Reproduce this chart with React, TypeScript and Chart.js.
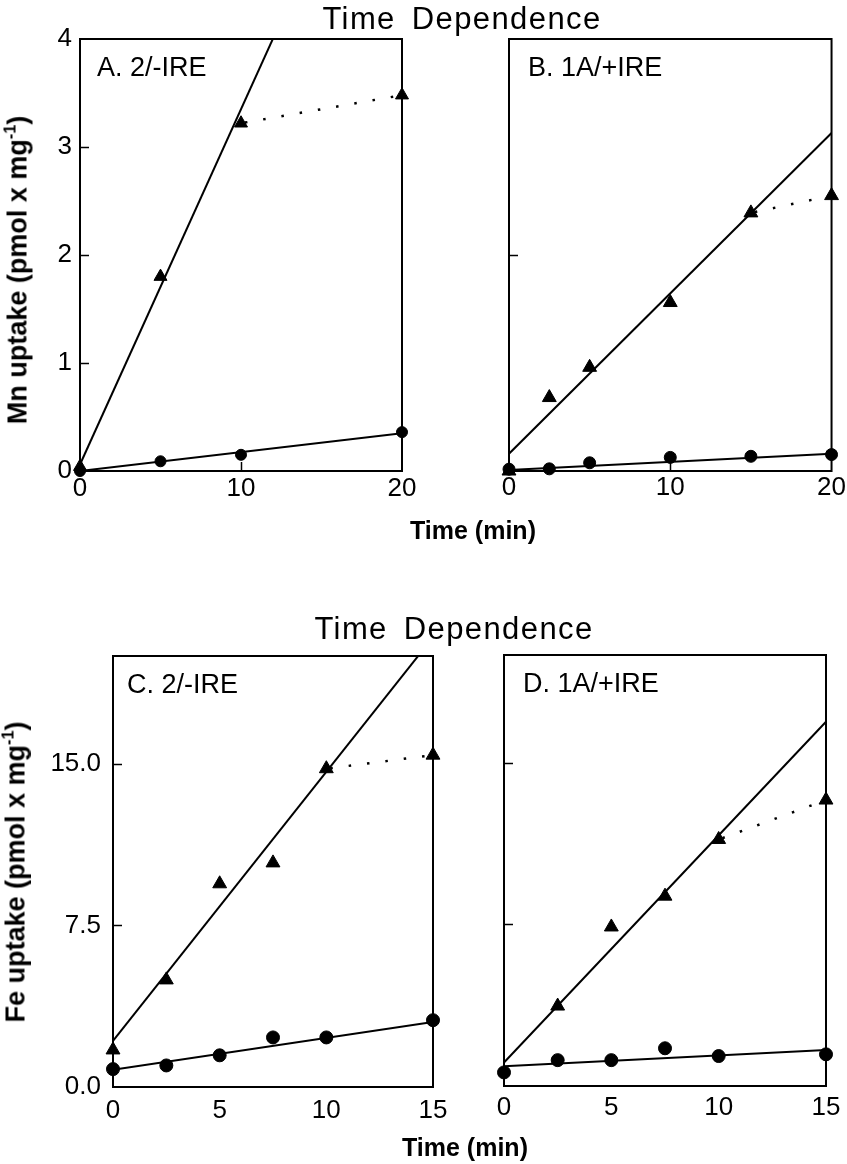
import React, { useEffect, useRef } from "react";
import { Chart, registerables } from "chart.js";
Chart.register(...registerables);

const FONT = '"Liberation Sans", Arial, Helvetica, sans-serif';

// ---------- Panel A : Mn uptake, 2/-IRE ----------
const timeA = [0, 5, 10, 20];
const mnTriA = [0.04, 1.8, 3.22, 3.48];
const mnCircA = [0.0, 0.09, 0.15, 0.36];
const fitTimeA = [0, 20];
const fitTriA = [0.06, 6.64];
const fitCircA = [0.0, 0.35];
const plateauTimeA = [10, 20];
const plateauA = [3.22, 3.48];

// ---------- Panel B : Mn uptake, 1A/+IRE ----------
const timeB = [0, 2.5, 5, 10, 15, 20];
const mnTriB = [0.0, 0.68, 0.96, 1.56, 2.39, 2.55];
const mnCircB = [0.017, 0.02, 0.076, 0.126, 0.136, 0.152];
const fitTimeB = [0, 20];
const fitTriB = [0.16, 3.13];
const fitCircB = [0.01, 0.16];
const plateauTimeB = [15, 20];
const plateauB = [2.39, 2.55];

// ---------- Panel C : Fe uptake, 2/-IRE ----------
const timeC = [0, 2.5, 5, 7.5, 10, 15];
const feTriC = [1.72, 4.97, 9.43, 10.4, 14.77, 15.4];
const feCircC = [0.83, 1.0, 1.47, 2.3, 2.3, 3.1];
const fitTimeC = [0, 15];
const fitTriC = [2.14, 20.87];
const fitCircC = [0.8, 3.02];
const plateauTimeC = [10, 15];
const plateauC = [14.77, 15.4];

// ---------- Panel D : Fe uptake, 1A/+IRE ----------
const timeDTri = [2.5, 5, 7.5, 10, 15];
const feTriD = [3.71, 7.38, 8.81, 11.44, 13.27];
const timeDCirc = [0, 2.5, 5, 7.5, 10, 15];
const feCircD = [0.63, 1.2, 1.2, 1.75, 1.39, 1.47];
const fitTimeD = [0, 15];
const fitTriD = [1.09, 16.9];
const fitCircD = [0.92, 1.67];
const plateauTimeD = [10, 15];
const plateauD = [11.44, 13.27];

// ticks
const mnXTicks = [0, 10, 20];
const mnYTicks = [0, 1, 2, 3, 4];
const feXTicks = [0, 5, 10, 15];
const feYTicks = [0, 7.5, 15];

const zip = (xs: number[], ys: number[]) => xs.map((x, i) => ({ x, y: ys[i] }));

const framePlugin = {
  id: "frame",
  beforeDatasetsDraw(chart: any, _args: any, opts: any) {
    const { ctx, chartArea: a, scales } = chart;
    ctx.save();
    ctx.strokeStyle = "#000";
    ctx.lineWidth = 2;
    ctx.strokeRect(a.left, a.top, a.right - a.left, a.bottom - a.top);
    ctx.lineWidth = 1.5;
    (opts.yInner || []).forEach((v: number) => {
      const py = Math.round(scales.y.getPixelForValue(v)) + 0.5;
      ctx.beginPath();
      ctx.moveTo(a.left, py);
      ctx.lineTo(a.left + 9, py);
      ctx.stroke();
    });
    (opts.xInner || []).forEach((v: number) => {
      const px = Math.round(scales.x.getPixelForValue(v)) + 0.5;
      ctx.beginPath();
      ctx.moveTo(px, a.bottom);
      ctx.lineTo(px, a.bottom - 9);
      ctx.stroke();
    });
    if (opts.label) {
      ctx.fillStyle = "#000";
      ctx.font = `27px ${FONT}`;
      ctx.textBaseline = "alphabetic";
      ctx.textAlign = "left";
      ctx.fillText(opts.label, a.left + opts.labelDx, a.top + 37);
    }
    ctx.restore();
  },
};

type PanelProps = {
  left: number; top: number; width: number; height: number;
  area: { l: number; r: number; t: number; b: number };
  xMax: number; yMax: number;
  xTicks: number[]; yTicks: number[];
  showYLabels: boolean; yDecimals: number;
  xPad: number; yPad: number;
  xInner: number[]; yInner: number[];
  label: string; labelDx: number;
  tri: { x: number; y: number }[];
  circ: { x: number; y: number }[];
  fitTri: { x: number; y: number }[];
  fitCirc: { x: number; y: number }[];
  plateau: { x: number; y: number }[];
  triR: number; circR: number;
};

function Panel(p: PanelProps) {
  const ref = useRef<HTMLCanvasElement | null>(null);
  useEffect(() => {
    if (!ref.current) return;
    const yAxisW = p.area.l - p.left;
    const padTop = p.area.t - p.top;
    const padRight = p.left + p.width - p.area.r;
    const xAxisH = p.top + p.height - p.area.b;
    const tickFont = { family: FONT, size: 26 };
    const chart = new Chart(ref.current, {
      type: "scatter",
      data: {
        datasets: [
          {
            data: p.tri, pointStyle: "triangle", pointRadius: p.triR,
            backgroundColor: "#000", borderColor: "#000", pointBorderWidth: 1,
            showLine: false, clip: false as any,
          },
          {
            data: p.circ, pointStyle: "circle", pointRadius: p.circR,
            backgroundColor: "#000", borderColor: "#000", pointBorderWidth: 1,
            showLine: false, clip: false as any,
          },
          {
            data: p.fitTri, showLine: true, pointRadius: 0, borderColor: "#000",
            borderWidth: 2, backgroundColor: "#000",
          },
          {
            data: p.fitCirc, showLine: true, pointRadius: 0, borderColor: "#000",
            borderWidth: 2, backgroundColor: "#000",
          },
          {
            data: p.plateau, showLine: true, pointRadius: 0, borderColor: "#000",
            borderWidth: 2.5, borderDash: [2.5, 16], borderDashOffset: -4, backgroundColor: "#000",
          },
        ],
      },
      options: {
        animation: false,
        responsive: false,
        devicePixelRatio: 1,
        events: [],
        layout: { padding: { top: padTop, right: padRight, left: 0, bottom: 0 } },
        plugins: {
          legend: { display: false },
          tooltip: { enabled: false },
          frame: { xInner: p.xInner, yInner: p.yInner, label: p.label, labelDx: p.labelDx },
        } as any,
        scales: {
          x: {
            type: "linear", min: 0, max: p.xMax,
            grid: { display: false, drawTicks: false },
            border: { display: false },
            afterBuildTicks: (s: any) => { s.ticks = p.xTicks.map((v) => ({ value: v })); },
            afterFit: (s: any) => { s.height = xAxisH; },
            ticks: {
              color: "#000", font: tickFont, padding: p.xPad,
              maxRotation: 0, autoSkip: false,
              callback: (v: any) => String(v),
            },
          },
          y: {
            type: "linear", min: 0, max: p.yMax,
            grid: { display: false, drawTicks: false },
            border: { display: false },
            afterBuildTicks: (s: any) => { s.ticks = p.yTicks.map((v) => ({ value: v })); },
            afterFit: (s: any) => { s.width = yAxisW; },
            ticks: {
              display: p.showYLabels,
              color: "#000", font: tickFont, padding: p.yPad, autoSkip: false,
              callback: (v: any) => Number(v).toFixed(p.yDecimals),
            },
          },
        },
      },
      plugins: [framePlugin as any],
    });
    return () => chart.destroy();
  }, []);
  return (
    <canvas
      ref={ref}
      width={p.width}
      height={p.height}
      style={{ position: "absolute", left: p.left, top: p.top, width: p.width, height: p.height }}
    />
  );
}

const textBase: React.CSSProperties = {
  position: "absolute",
  whiteSpace: "nowrap",
  lineHeight: 1,
  color: "#000",
  fontFamily: FONT,
};

function Centered({ x, y, style, children, rotate }: any) {
  return (
    <div
      style={{
        ...textBase,
        left: x,
        top: y,
        transform: `translate(-50%,-50%)${rotate ? " rotate(-90deg)" : ""}`,
        ...style,
      }}
    >
      {children}
    </div>
  );
}

const sup: React.CSSProperties = { fontSize: "0.6em", position: "relative", top: "-0.65em" };

export default function App() {
  return (
    <div style={{ position: "absolute", left: 0, top: 0, width: 847, height: 1164, background: "#fff", overflow: "hidden" }}>
      <Panel
        left={0} top={0} width={430} height={520}
        area={{ l: 80, r: 402, t: 39, b: 471 }}
        xMax={20} yMax={4} xTicks={mnXTicks} yTicks={mnYTicks}
        showYLabels={true} yDecimals={0} xPad={2} yPad={8}
        xInner={[10]} yInner={[1, 2, 3]}
        label="A. 2/-IRE" labelDx={17}
        tri={zip(timeA, mnTriA)} circ={zip(timeA, mnCircA)}
        fitTri={zip(fitTimeA, fitTriA)} fitCirc={zip(fitTimeA, fitCircA)}
        plateau={zip(plateauTimeA, plateauA)} triR={7.5} circR={5.5}
      />
      <Panel
        left={430} top={0} width={417} height={520}
        area={{ l: 509, r: 832, t: 39, b: 471 }}
        xMax={20} yMax={4} xTicks={mnXTicks} yTicks={mnYTicks}
        showYLabels={false} yDecimals={0} xPad={1} yPad={8}
        xInner={[10]} yInner={[2]}
        label="B. 1A/+IRE" labelDx={19}
        tri={zip(timeB, mnTriB)} circ={zip(timeB, mnCircB)}
        fitTri={zip(fitTimeB, fitTriB)} fitCirc={zip(fitTimeB, fitCircB)}
        plateau={zip(plateauTimeB, plateauB)} triR={8} circR={6}
      />
      <Panel
        left={0} top={560} width={470} height={580}
        area={{ l: 113, r: 433, t: 656, b: 1087 }}
        xMax={15} yMax={20} xTicks={feXTicks} yTicks={feYTicks}
        showYLabels={true} yDecimals={1} xPad={8} yPad={12}
        xInner={[]} yInner={[7.5, 15]}
        label="C. 2/-IRE" labelDx={14}
        tri={zip(timeC, feTriC)} circ={zip(timeC, feCircC)}
        fitTri={zip(fitTimeC, fitTriC)} fitCirc={zip(fitTimeC, fitCircC)}
        plateau={zip(plateauTimeC, plateauC)} triR={8} circR={6.5}
      />
      <Panel
        left={470} top={560} width={377} height={580}
        area={{ l: 504, r: 826, t: 655, b: 1086 }}
        xMax={15} yMax={20} xTicks={feXTicks} yTicks={feYTicks}
        showYLabels={false} yDecimals={1} xPad={6} yPad={12}
        xInner={[]} yInner={[7.5, 15]}
        label="D. 1A/+IRE" labelDx={19}
        tri={zip(timeDTri, feTriD)} circ={zip(timeDCirc, feCircD)}
        fitTri={zip(fitTimeD, fitTriD)} fitCirc={zip(fitTimeD, fitCircD)}
        plateau={zip(plateauTimeD, plateauD)} triR={8} circR={6.5}
      />

      <Centered x={462} y={18} style={{ fontSize: 31, letterSpacing: 1.4, wordSpacing: 6 }}>Time Dependence</Centered>
      <Centered x={454} y={628} style={{ fontSize: 31, letterSpacing: 1.4, wordSpacing: 6 }}>Time Dependence</Centered>

      <Centered x={473} y={530} style={{ fontSize: 25, fontWeight: "bold" }}>Time (min)</Centered>
      <Centered x={465} y={1147} style={{ fontSize: 25, fontWeight: "bold" }}>Time (min)</Centered>

      <Centered x={18} y={270} rotate style={{ fontSize: 27, fontWeight: "bold" }}>
        Mn uptake (pmol x mg<span style={sup}>-1</span>)
      </Centered>
      <Centered x={16} y={872} rotate style={{ fontSize: 27, fontWeight: "bold" }}>
        Fe uptake (pmol x mg<span style={sup}>-1</span>)
      </Centered>
    </div>
  );
}
